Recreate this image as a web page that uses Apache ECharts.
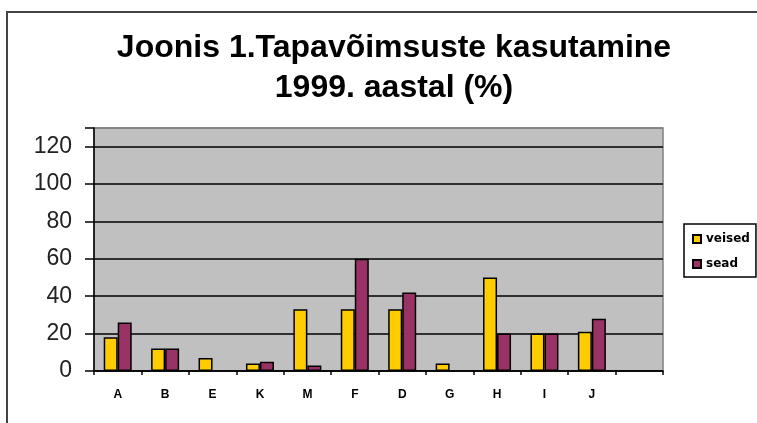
<!DOCTYPE html>
<html><head><meta charset="utf-8">
<script src="https://cdn.jsdelivr.net/npm/echarts@6/dist/echarts.min.js"></script>
<style>
html,body{margin:0;padding:0;background:#fff;overflow:hidden}
#frame{position:absolute;left:6px;top:11px;width:800px;height:500px;border-top:2px solid #444;border-left:2px solid #444}
#c{position:absolute;left:0;top:0;width:757px;height:423px}
</style></head>
<body><div id="frame"></div><div id="c"></div>
<script>
const categories = ['A','B','E','K','M','F','D','G','H','I','J',''];
const veised = [18, 12, 7, 4, 33, 33, 33, 4, 50, 20, 21, null];
const sead   = [26, 12, null, 5, 3, 60, 42, null, 20, 20, 28, null];
const yTicks = [0, 20, 40, 60, 80, 100, 120];

const chart = echarts.init(document.getElementById('c'), null, {renderer:'canvas'});
chart.setOption({
  animation:false,
  backgroundColor:'transparent',
  title:{
    text:'Joonis 1.Tapavõimsuste kasutamine\n1999. aastal (%)',
    left:389, top:23, textAlign:'center',
    textStyle:{fontFamily:'Liberation Sans, Arial, sans-serif', fontSize:32, fontWeight:'bold', color:'#000', lineHeight:40}
  },
  legend:{
    orient:'vertical', left:684, top:224,
    padding:[8,6,6,8], itemGap:11,
    borderColor:'#000', borderWidth:1.5, backgroundColor:'#fff',
    itemWidth:8, itemHeight:8, icon:'rect',
    textStyle:{fontFamily:'DejaVu Sans, sans-serif', fontSize:12, fontWeight:'bold', color:'#000', lineHeight:14},
    data:['veised','sead']
  },
  grid:{left:94, top:128, width:569, height:243, show:true, backgroundColor:'#c0c0c0', borderColor:'#808080', borderWidth:1.5},
  xAxis:{
    type:'category', data:categories,
    axisLine:{lineStyle:{color:'#000', width:1.5}},
    axisTick:{show:true, length:4, lineStyle:{color:'#000', width:1.5}},
    axisLabel:{fontFamily:'Liberation Sans, Arial, sans-serif', fontSize:12, fontWeight:'bold', color:'#000', margin:18}
  },
  yAxis:{
    type:'value', min:0, max:130, interval:20,
    axisLine:{show:true, lineStyle:{color:'#000', width:1.5}},
    axisTick:{show:true, length:9, lineStyle:{color:'#000', width:1.5}},
    axisLabel:{fontFamily:'Liberation Sans, Arial, sans-serif', fontSize:23, color:'#222', margin:22,
      formatter:v => yTicks.includes(v) ? String(v) : ''},
    splitLine:{show:true, lineStyle:{color:['#000','#000','#000','#000','#000','#000','#000','#808080'], width:1.5}}
  },
  series:[
    {name:'veised', type:'bar', data:veised, barWidth:14, barGap:'0%',
     itemStyle:{color:'#ffcc00', borderColor:'#000', borderWidth:1.5}},
    {name:'sead', type:'bar', data:sead, barWidth:14, barGap:'0%',
     itemStyle:{color:'#993366', borderColor:'#000', borderWidth:1.5}}
  ]
});
</script></body></html>
